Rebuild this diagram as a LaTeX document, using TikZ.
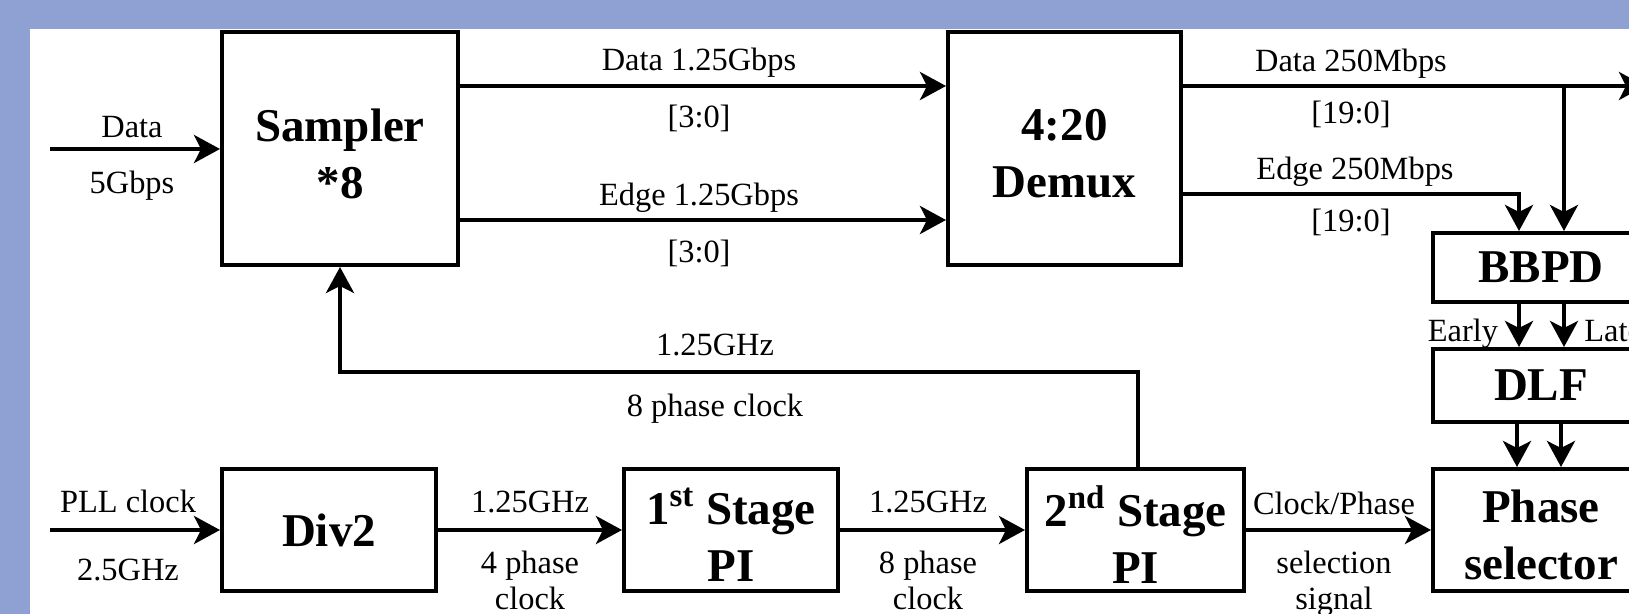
\documentclass[tikz,border=0pt]{standalone}
\usepackage{fontspec}
\setmainfont{Liberation Serif}
\usetikzlibrary{arrows.meta,calc}
\definecolor{bluebg}{RGB}{142,161,210}
\begin{document}
\begin{tikzpicture}[x=0.5pt,y=-0.5pt,
  box/.style={draw, line width=2pt, minimum width=107pt, minimum height=61pt, align=center,
    font=\fontsize{23.5}{28.5}\selectfont\bfseries, inner sep=0pt},
  btxt/.style={label={[font=\fontsize{23.5}{28.5}\selectfont\bfseries, align=center, inner sep=0pt, yshift=-2.5pt]center:#1}},
  lbl/.style={font=\fontsize{16.2}{18}\selectfont, inner sep=0pt, text height=0.7em, text depth=0.2em, yshift=-3.5pt},
  wire/.style={line width=2pt},
  arr/.style={wire, -{Stealth[length=13pt,width=14pt,inset=3.5pt]}},
]
\useasboundingbox (0,0) rectangle (1629,614);
\clip (0,0) rectangle (1629,614);
\fill[bluebg] (0,0) rectangle (1629,614);
\fill[white] (30,29) rectangle (1640,620);

% boxes
\node[box, minimum width=118pt, minimum height=116.5pt, btxt={Sampler\\*8}] (sam) at (340,148.5) {};
\node[box, minimum width=116.5pt, minimum height=116.5pt, btxt={4:20\\Demux}] (dmx) at (1064.5,148.5) {};
\node[box, minimum width=108pt, minimum height=34.5pt] (bbpd) at (1541,267.5) {BBPD};
\node[box, minimum width=108pt, minimum height=36.5pt] (dlf) at (1541,385.5) {DLF};
\node[box, minimum width=108pt, btxt={Phase\\selector}] (ps) at (1541,530) {};
\node[box] (div) at (329,530) {Div2};
\node[box, btxt={1\textsuperscript{st} Stage\\PI}] (pi1) at (731,530) {};
\node[box, minimum width=108.5pt, btxt={2\textsuperscript{nd} Stage\\PI}] (pi2) at (1135.5,530) {};

% coordinates
\coordinate (din) at (50,149);
\coordinate (r1) at (0,86);
\coordinate (r2) at (0,220);
\coordinate (dout) at (1645,86);
\coordinate (br) at (1564,86);
\coordinate (ec) at (1519,194);
\coordinate (d1) at (1517,0);
\coordinate (d2) at (1561,0);
\coordinate (fb) at (1138,372);
\coordinate (pll) at (50,530);

% connectors
\draw[arr] (din) -- (din -| sam.west);
\draw[arr] (sam.east |- r1) -- (dmx.west |- r1);
\draw[arr] (sam.east |- r2) -- (dmx.west |- r2);
\draw[arr] (dmx.east |- dout) -- (dout);
\draw[arr] (br) -- (br |- bbpd.north);
\draw[arr] (dmx.east |- ec) -- (ec) -- (ec |- bbpd.north);
\draw[arr] (bbpd.south -| ec) -- (dlf.north -| ec);
\draw[arr] (bbpd.south -| br) -- (dlf.north -| br);
\draw[arr] (dlf.south -| d1) -- (ps.north -| d1);
\draw[arr] (dlf.south -| d2) -- (ps.north -| d2);
\draw[arr] (pi2.north -| fb) -- (fb) -- (fb -| sam) -- (sam.south);
\draw[arr] (pll) -- (div.west);
\draw[arr] (div.east) -- (pi1.west);
\draw[arr] (pi1.east) -- (pi2.west);
\draw[arr] (pi2.east) -- (ps.west);

% labels
\node[lbl] (l1) at (132,126) {Data};
\node[lbl] (l2) at (132,182) {5Gbps};
\node[lbl] (l3) at (699,59) {Data 1.25Gbps};
\node[lbl] (l4) at (699,116) {[3:0]};
\node[lbl] (l5) at (699,194) {Edge 1.25Gbps};
\node[lbl] (l6) at (699,251) {[3:0]};
\node[lbl] (l7) at (1351,60) {Data 250Mbps};
\node[lbl] (l8) at (1351,112) {[19:0]};
\node[lbl] (l9) at (1355,168) {Edge 250Mbps};
\node[lbl] (l10) at (1351,220) {[19:0]};
\node[lbl] (l11) at (1463,330) {Early};
\node[lbl, anchor=west] (l12) at (1584,330) {Late};
\node[lbl] (l13) at (715,344) {1.25GHz};
\node[lbl] (l14) at (715,405) {8 phase clock};
\node[lbl] (l15) at (128,501) {PLL clock};
\node[lbl] (l16) at (128,569) {2.5GHz};
\node[lbl] (l17) at (530,501) {1.25GHz};
\node[lbl] (l18) at (530,562) {4 phase};
\node[lbl] (l19) at (530,598) {clock};
\node[lbl] (l20) at (928,501) {1.25GHz};
\node[lbl] (l21) at (928,562) {8 phase};
\node[lbl] (l22) at (928,598) {clock};
\node[lbl] (l23) at (1334,503) {Clock/Phase};
\node[lbl] (l24) at (1334,562) {selection};
\node[lbl] (l25) at (1334,598) {signal};
\end{tikzpicture}
\end{document}
